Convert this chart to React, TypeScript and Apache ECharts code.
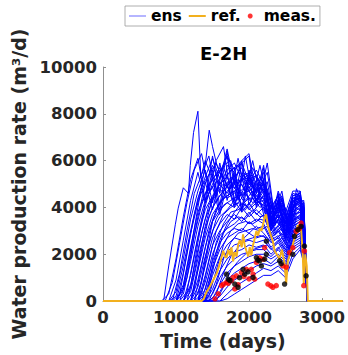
import React, { useEffect, useRef } from "react";
import * as echarts from "echarts";

// ---- axes ----
const xTicks = [0, 1000, 2000, 3000];
const yTicks = [0, 2000, 4000, 6000, 8000, 10000];
const xMax = 3285;
const yMax = 10000;
const shutTime = 2800;
const endTime = 3285;

// ---- ensemble (report grid 1) ----
const ensGridTimes = [800, 900, 1000, 1100, 1200, 1300, 1400, 1500, 1600, 1700, 1800, 1900, 2000, 2100, 2200, 2300, 2400, 2500, 2600, 2700, 2760];
const ensMembers: number[][] = [
  [0, 300, 1800, 3600, 5200, 6100, 4300, 6200, 4600, 6400, 4300, 5900, 6200, 4000, 5700, 3400, 4600, 3000, 4500, 4600, 3000],
  [0, 0, 900, 2600, 4300, 5500, 4200, 5600, 4100, 5800, 5500, 3900, 5600, 4300, 5200, 3300, 4300, 2800, 4300, 4400, 2800],
  [0, 0, 400, 1800, 3500, 4700, 5600, 4200, 5900, 4300, 5600, 6000, 4100, 4800, 5500, 3200, 4100, 3300, 4200, 4700, 3200],
  [0, 0, 0, 1200, 2900, 4200, 5100, 3900, 5300, 6200, 4100, 5300, 5500, 4200, 4700, 3000, 4400, 2700, 4400, 4300, 2600],
  [0, 0, 0, 700, 2300, 3800, 4600, 5200, 3900, 5400, 5700, 3800, 5200, 4600, 5000, 3800, 3300, 3400, 4000, 4500, 3100],
  [0, 0, 0, 300, 1700, 3200, 4300, 4900, 3700, 5000, 4000, 5200, 4700, 5000, 3700, 3300, 4200, 2600, 4100, 4200, 2700],
  [0, 0, 0, 0, 1100, 2700, 3900, 4500, 5000, 4600, 5100, 4400, 4900, 4300, 4800, 3600, 3800, 2900, 4300, 4000, 2900],
  [0, 0, 0, 0, 700, 2200, 3500, 4300, 4800, 4400, 4600, 5000, 4300, 4600, 4200, 3200, 4000, 3200, 3900, 4400, 2500],
  [0, 0, 0, 0, 400, 1800, 3100, 4000, 4500, 4900, 4200, 4600, 4700, 4100, 4500, 3400, 3600, 2800, 3800, 4100, 3000],
  [0, 0, 0, 0, 0, 1300, 2700, 3700, 4200, 4500, 4700, 4100, 4400, 4400, 3900, 3100, 3700, 3000, 3600, 3900, 2400],
  [0, 0, 0, 0, 0, 900, 2300, 3400, 3900, 4200, 4000, 4400, 3900, 4200, 4300, 3300, 3400, 2700, 3700, 3800, 2800],
  [0, 0, 0, 0, 0, 600, 1900, 3000, 3600, 3900, 4300, 3800, 4200, 3700, 4000, 3000, 3500, 2600, 3500, 3600, 2300],
  [0, 0, 0, 0, 0, 300, 1500, 2700, 3300, 3700, 3500, 4000, 3600, 3900, 3600, 2900, 3200, 2800, 3400, 3700, 2600],
  [0, 0, 0, 0, 0, 0, 1100, 2400, 3000, 3400, 3700, 3400, 3800, 3400, 3700, 2800, 3100, 2500, 3300, 3500, 2200],
  [0, 0, 0, 0, 0, 0, 800, 2000, 2800, 3100, 3300, 3600, 3300, 3500, 3300, 2700, 3000, 2400, 3200, 3400, 2500],
  [0, 0, 0, 0, 0, 0, 500, 1700, 2500, 2900, 3100, 3000, 3400, 3100, 3200, 2600, 2800, 2300, 3000, 3300, 2100],
  [0, 0, 0, 0, 0, 0, 300, 1400, 2200, 2700, 2900, 3100, 2900, 3200, 2900, 2500, 2700, 2200, 2900, 3200, 2400],
  [0, 0, 0, 0, 0, 0, 100, 1100, 1900, 2400, 2700, 2600, 2900, 2700, 2800, 2300, 2600, 2100, 2800, 3000, 2000],
  [0, 0, 0, 0, 0, 0, 0, 800, 1600, 2100, 2400, 2500, 2600, 2500, 2600, 2200, 2500, 2000, 2700, 2900, 2300],
  [0, 0, 0, 0, 0, 0, 0, 500, 1300, 1800, 2100, 2200, 2400, 2300, 2400, 2000, 2300, 1900, 2600, 2800, 1900],
  [0, 0, 0, 0, 0, 0, 0, 300, 1000, 1500, 1800, 2000, 2100, 2200, 2200, 1900, 2200, 1800, 2500, 2700, 2200],
  [0, 0, 0, 0, 0, 0, 0, 100, 700, 1200, 1500, 1700, 1900, 2000, 2000, 1800, 2000, 1700, 2400, 2600, 1800],
  [0, 0, 0, 0, 0, 0, 0, 0, 400, 900, 1200, 1400, 1600, 1700, 1800, 1600, 1900, 1600, 2300, 2500, 2000],
  [0, 0, 0, 0, 0, 0, 0, 0, 200, 600, 900, 1100, 1300, 1500, 1600, 1500, 1700, 1500, 2200, 2400, 1600],
  [0, 0, 0, 0, 0, 0, 0, 0, 0, 300, 600, 800, 1000, 1200, 1400, 1300, 1500, 1200, 2000, 2300, 1700],
  [0, 0, 0, 0, 0, 0, 0, 0, 0, 100, 300, 500, 700, 900, 1100, 1100, 1300, 1000, 1800, 2200, 1500],
  [0, 0, 200, 1500, 3000, 4400, 5300, 6100, 5200, 6500, 5000, 6000, 6300, 4600, 5800, 3400, 4700, 3800, 4700, 4700, 3400],
  [0, 0, 0, 500, 2000, 3600, 5000, 5800, 5000, 5600, 5900, 5200, 5400, 5300, 4900, 4000, 4500, 3400, 4600, 4500, 3300],
  [0, 0, 0, 0, 600, 2500, 4200, 5000, 5500, 5000, 5300, 5700, 4800, 5400, 4600, 3700, 4300, 3600, 4500, 4600, 2900],
  [0, 0, 0, 0, 0, 1500, 3200, 4400, 5000, 5300, 4800, 5300, 5000, 4700, 5000, 3500, 3900, 3300, 4200, 4500, 3100],
  [0, 0, 0, 0, 0, 0, 1800, 3400, 4200, 4700, 5000, 4500, 4800, 4500, 4400, 3300, 3700, 3100, 4000, 4300, 2800],
  [0, 0, 0, 0, 0, 0, 0, 1500, 2600, 3300, 3800, 4200, 4000, 4300, 4100, 3100, 3500, 3000, 3800, 4100, 2700],
];

// ---- ensemble (report grid 2, offset by half a step) ----
const ensGridTimes2 = [850, 950, 1050, 1150, 1250, 1350, 1450, 1550, 1650, 1750, 1850, 1950, 2050, 2150, 2250, 2350, 2450, 2550, 2650, 2750];
const ensMembers2: number[][] = [
  [0, 800, 2500, 4200, 5600, 6300, 4700, 6000, 6600, 4500, 6100, 4600, 6000, 4500, 5900, 3600, 4500, 3200, 4600, 4200],
  [0, 0, 1200, 3000, 4600, 5400, 6200, 4500, 5800, 6000, 4300, 6200, 4500, 5800, 4300, 3800, 4700, 2900, 4800, 4000],
  [0, 0, 300, 2000, 3700, 4900, 5400, 5900, 5100, 5600, 5800, 5000, 5700, 4900, 5500, 3600, 4300, 3600, 4400, 4100],
  [0, 0, 0, 1000, 2800, 4100, 5000, 5400, 5700, 4900, 5500, 5300, 4900, 5300, 4700, 3900, 4100, 3200, 4500, 3900],
  [0, 0, 0, 400, 2000, 3500, 4600, 5100, 4800, 5300, 5000, 5500, 5100, 4600, 5100, 3400, 4400, 3000, 4200, 4300],
  [0, 0, 0, 0, 1200, 2900, 4100, 4700, 5000, 4800, 5200, 4700, 5300, 4800, 4600, 3700, 3900, 3400, 4300, 4000],
  [0, 0, 0, 0, 500, 2200, 3600, 4300, 4700, 5100, 4600, 4900, 4500, 5000, 4500, 3300, 4200, 2900, 4100, 4200],
  [0, 0, 0, 0, 0, 1500, 3000, 3900, 4400, 4600, 4800, 4300, 4700, 4300, 4800, 3500, 3700, 3100, 4000, 3800],
  [0, 0, 0, 0, 0, 800, 2400, 3500, 4100, 4300, 4500, 4600, 4200, 4500, 4200, 3200, 3800, 2800, 3900, 4000],
  [0, 0, 0, 0, 0, 300, 1700, 3000, 3700, 4000, 4200, 3900, 4400, 4000, 4300, 3000, 3500, 2900, 3700, 3900],
  [0, 0, 0, 0, 0, 0, 1100, 2500, 3300, 3800, 3900, 4100, 3800, 4200, 3800, 3100, 3300, 2700, 3600, 3700],
  [0, 0, 0, 0, 0, 0, 600, 1900, 2900, 3400, 3600, 3500, 3900, 3600, 3700, 2900, 3200, 2600, 3500, 3600],
  [0, 0, 0, 0, 0, 0, 200, 1300, 2400, 3000, 3300, 3400, 3300, 3500, 3400, 2800, 3100, 2500, 3300, 3500],
  [0, 0, 0, 0, 0, 0, 0, 700, 1800, 2500, 2900, 3000, 3100, 3000, 3200, 2600, 2900, 2300, 3100, 3400],
  [0, 0, 0, 0, 0, 0, 0, 300, 1200, 1900, 2300, 2600, 2700, 2800, 2700, 2400, 2700, 2200, 3000, 3200],
  [0, 0, 0, 0, 0, 0, 0, 0, 600, 1300, 1700, 2000, 2200, 2300, 2400, 2100, 2400, 2000, 2800, 3000],
];

// ---- ensemble members with their own report times ----
const ensATimes = [0, 830, 900, 990, 1030, 1100, 1170, 1195, 1240, 1300, 1340, 1400, 1500, 1600, 1700, 1800, 1900, 2000, 2100, 2200, 2300, 2400, 2500, 2600, 2700, 2760, 2800, 3285];
const ensAValues = [0, 0, 1500, 3260, 3970, 4840, 4600, 5790, 7200, 8110, 5300, 6000, 5200, 5700, 4900, 5400, 4600, 5300, 4700, 5000, 3800, 4200, 3300, 4300, 4400, 2900, 0, 0];
const ensBTimes = [0, 1000, 1100, 1200, 1300, 1400, 1455, 1500, 1560, 1600, 1700, 1800, 1900, 2000, 2100, 2200, 2300, 2400, 2500, 2600, 2700, 2760, 2800, 3285];
const ensBValues = [0, 0, 600, 2200, 4000, 5800, 7300, 6600, 5800, 5500, 6200, 5600, 5900, 5100, 5600, 5000, 3900, 4500, 3500, 4400, 4500, 3100, 0, 0];

// ---- reference ----
const refTimes = [0, 1350, 1380, 1420, 1460, 1510, 1560, 1600, 1646, 1670, 1692, 1714, 1740, 1760, 1782, 1800, 1830, 1850, 1875, 1900, 1918, 1940, 1964, 1990, 2010, 2032, 2055, 2080, 2101, 2125, 2146, 2170, 2195, 2215, 2235, 2260, 2290, 2327, 2350, 2380, 2418, 2450, 2487, 2509, 2531, 2560, 2590, 2623, 2645, 2668, 2690, 2713, 2736, 2750, 2770, 2790, 2805, 3285];
const refValues = [0, 0, 100, 400, 600, 900, 1200, 1600, 2150, 1900, 1850, 2200, 1950, 2300, 1700, 2100, 1900, 2400, 2600, 2300, 2850, 2400, 2150, 1900, 2300, 1950, 2400, 2700, 3000, 2800, 3100, 3000, 3300, 3600, 3700, 3200, 2900, 2550, 2150, 2000, 1800, 2200, 1600, 750, 1700, 2000, 2300, 2700, 2900, 3250, 3000, 3100, 2000, 750, 2000, 1500, 0, 0];

// ---- measurements (red) ----
const measTimes = [1533, 1578, 1624, 1650, 1692, 1715, 1760, 1782, 1805, 1828, 1850, 1896, 1930, 1964, 2000, 2032, 2055, 2078, 2101, 2146, 2191, 2214, 2259, 2300, 2327, 2373, 2463, 2510, 2555, 2600, 2645, 2690, 2713, 2750, 2759];
const measValues = [100, 310, 660, 720, 800, 760, 870, 1010, 520, 1080, 700, 1220, 1050, 1360, 950, 1360, 1150, 940, 1650, 1850, 1790, 2280, 730, 650, 590, 660, 1500, 1450, 2070, 2280, 2980, 3100, 3330, 660, 2140];

// ---- black points ----
const simTimes = [1692, 1714, 1740, 1805, 1850, 1870, 1918, 1941, 1985, 2055, 2101, 2120, 2146, 2169, 2214, 2237, 2237, 2418, 2440, 2487, 2600, 2623, 2668, 2713, 2759, 2782];
const simValues = [1150, 940, 880, 730, 590, 1000, 1360, 1150, 1250, 1010, 1860, 1750, 1720, 1500, 1790, 2000, 2560, 1720, 1600, 730, 2000, 2770, 3050, 3190, 2350, 1080];

const FONT = "DejaVu Sans";
const BLUE = "#0000ff";
const ORANGE = "#f2b01e";
const AXIS_GRAY = "#8f8f8f";
const TEXT = "#262626";

const pairs = (ts: number[], vs: number[]) => ts.map((t, i) => [t, vs[i]]);

export default function App() {
  const ref = useRef<HTMLDivElement>(null);
  useEffect(() => {
    document.body.style.margin = "0";
    const chart = echarts.init(ref.current!, null, { renderer: "svg" });

    const ensLine = (data: number[][]) => ({
      type: "line",
      name: "ens",
      data,
      symbol: "none",
      silent: true,
      z: 2,
      lineStyle: { color: BLUE, width: 1 },
      itemStyle: { color: BLUE },
    });

    const ensSeries = [
      ensLine(pairs(ensATimes, ensAValues)),
      ensLine(pairs(ensBTimes, ensBValues)),
      ...ensMembers.map((row) =>
        ensLine([[0, 0], ...pairs(ensGridTimes, row), [shutTime, 0], [endTime, 0]])
      ),
      ...ensMembers2.map((row) =>
        ensLine([[0, 0], ...pairs(ensGridTimes2, row), [shutTime, 0], [endTime, 0]])
      ),
    ];

    const option: any = {
      animation: false,
      backgroundColor: "#ffffff",
      textStyle: { fontFamily: FONT },
      title: {
        text: "E-2H",
        left: 195,
        top: 39,
        textStyle: { fontFamily: FONT, fontWeight: "bold", fontSize: 18, color: "#000" },
      },
      legend: {
        left: 125,
        top: 6,
        padding: [2, 4, 2, 4],
        itemGap: 7,
        itemWidth: 17,
        itemHeight: 5,
        selectedMode: false,
        borderColor: "#9a9a9a",
        borderWidth: 0.8,
        backgroundColor: "#fff",
        textStyle: { fontFamily: FONT, fontWeight: "bold", fontSize: 15.5, color: "#000" },
        data: [
          { name: "ens", icon: "path://M0,0H17V1H0Z", itemStyle: { color: "#6a6aff" } },
          { name: "ref.", icon: "path://M0,0H17V2H0Z", itemStyle: { color: ORANGE } },
          { name: "meas.", icon: "circle", itemStyle: { color: "#ff0000" } },
        ],
      },
      grid: { left: 103, top: 67, right: 5, bottom: 51, containLabel: false },
      xAxis: {
        type: "value",
        min: 0,
        max: xMax,
        name: "Time (days)",
        nameLocation: "middle",
        nameGap: 27,
        nameTextStyle: { fontFamily: FONT, fontWeight: "bold", fontSize: 19, color: TEXT },
        axisLine: { show: true, onZero: false, lineStyle: { color: AXIS_GRAY, width: 1 } },
        axisTick: { show: true, inside: true, length: 3, customValues: xTicks, lineStyle: { color: AXIS_GRAY } },
        axisLabel: {
          customValues: xTicks,
          margin: 8,
          color: TEXT,
          fontFamily: FONT,
          fontWeight: "bold",
          fontSize: 16.5,
          formatter: (v: number) => String(v),
        },
        splitLine: { show: false },
      },
      yAxis: {
        type: "value",
        min: 0,
        max: yMax,
        name: "Water production rate (m³/d)",
        nameLocation: "middle",
        nameGap: 66,
        nameTextStyle: { fontFamily: FONT, fontWeight: "bold", fontSize: 19, color: TEXT },
        axisLine: { show: true, lineStyle: { color: AXIS_GRAY, width: 1 } },
        axisTick: { show: true, inside: true, length: 3, customValues: yTicks, lineStyle: { color: AXIS_GRAY } },
        axisLabel: {
          customValues: yTicks,
          margin: 6,
          color: TEXT,
          fontFamily: FONT,
          fontWeight: "bold",
          fontSize: 16.5,
          formatter: (v: number) => String(v),
        },
        splitLine: { show: false },
      },
      series: [
        ...ensSeries,
        {
          type: "line",
          name: "ref.",
          data: pairs(refTimes, refValues),
          symbol: "none",
          silent: true,
          z: 3,
          lineStyle: { color: ORANGE, width: 2 },
          itemStyle: { color: ORANGE },
        },
        {
          type: "scatter",
          name: "meas.",
          data: pairs(measTimes, measValues),
          symbol: "circle",
          symbolSize: 5.5,
          silent: true,
          z: 4,
          itemStyle: { color: "#ff0000" },
        },
        {
          type: "scatter",
          name: "sim.",
          data: pairs(simTimes, simValues),
          symbol: "circle",
          symbolSize: 5.5,
          silent: true,
          z: 5,
          itemStyle: { color: "#000000" },
        },
      ],
    };

    chart.setOption(option);
    return () => chart.dispose();
  }, []);

  return (
    <div
      ref={ref}
      style={{ position: "fixed", left: 0, top: 0, width: 348, height: 355, background: "#fff" }}
    />
  );
}
